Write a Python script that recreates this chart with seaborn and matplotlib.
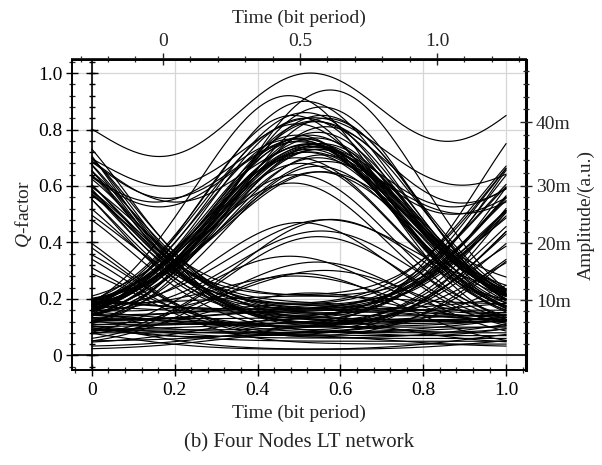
import numpy as np
import pandas as pd
import seaborn as sns
import matplotlib
matplotlib.use("Agg")
import matplotlib.pyplot as plt
from matplotlib.ticker import MultipleLocator, FixedLocator

# ---------------- data ----------------
# each trace = zero level + pulses for previous / current / next bit
bit_centers = [-0.15, 0.525, 1.19]
pulse_sigma = 0.225

base = [
    0.12, 0.15, 0.10, 0.14, 0.17, 0.11, 0.13, 0.16,
    0.09, 0.18, 0.13, 0.07, 0.15, 0.12, 0.05, 0.16,
    0.13, 0.11, 0.16, 0.14, 0.09, 0.17, 0.12, 0.15,
    0.16, 0.15, 0.10, 0.16, 0.13, 0.11, 0.16, 0.14,
    0.30, 0.25, 0.12, 0.08, 0.14, 0.09, 0.11, 0.13,
    0.12, 0.14, 0.10, 0.16, 0.13, 0.11, 0.15, 0.09,
    0.13, 0.10, 0.16, 0.12, 0.08, 0.15, 0.11, 0.14,
    0.11, 0.14, 0.09, 0.16, 0.12, 0.15, 0.10, 0.13,
    0.10, 0.13, 0.16, 0.08, 0.12, 0.15, 0.18, 0.11,
    0.02, 0.03, 0.05, 0.02, 0.04, 0.06, 0.03, 0.02,
    0.08, 0.17, 0.12, 0.14, 0.06, 0.11, 0.16, 0.13,
    0.05, 0.08, 0.04, 0.10, 0.06, 0.03, 0.09, 0.07,
    0.06, 0.09, 0.04, 0.12, 0.07, 0.05, 0.10, 0.08,
    0.10, 0.13, 0.08, 0.15, 0.12, 0.09, 0.14, 0.11,
    0.10, 0.08, 0.12, 0.09, 0.11, 0.07, 0.13, 0.10,
]
amp_prev = [
    0.00, 0.00, 0.00, 0.00, 0.00, 0.00, 0.00, 0.00,
    0.04, 0.00, 0.00, 0.06, 0.00, 0.00, 0.05, 0.00,
    0.00, 0.00, 0.00, 0.00, 0.00, 0.00, 0.00, 0.00,
    0.62, 0.00, 0.00, 0.58, 0.00, 0.00, 0.60, 0.00,
    0.57, 0.50, 0.78, 0.72, 0.66, 0.00, 0.00, 0.00,
    0.60, 0.55, 0.68, 0.50, 0.63, 0.45, 0.58, 0.72,
    0.55, 0.62, 0.48, 0.66, 0.40, 0.58, 0.70, 0.52,
    0.05, 0.00, 0.00, 0.04, 0.00, 0.06, 0.00, 0.00,
    0.05, 0.00, 0.04, 0.06, 0.00, 0.03, 0.00, 0.05,
    0.08, 0.00, 0.06, 0.10, 0.00, 0.05, 0.09, 0.00,
    0.66, 0.42, 0.52, 0.60, 0.35, 0.75, 0.48, 0.57,
    0.00, 0.08, 0.00, 0.10, 0.00, 0.00, 0.06, 0.00,
    0.35, 0.00, 0.28, 0.00, 0.42, 0.00, 0.30, 0.00,
    0.00, 0.60, 0.00, 0.00, 0.00, 0.00, 0.00, 0.00,
    0.00, 0.00, 0.00, 0.00, 0.00, 0.00, 0.00, 0.00,
]
amp_cur = [
    0.62, 0.58, 0.66, 0.60, 0.55, 0.64, 0.57, 0.61,
    0.52, 0.47, 0.70, 0.40, 0.33, 0.74, 0.28, 0.56,
    0.60, 0.57, 0.52, 0.64, 0.55, 0.48, 0.62, 0.58,
    0.60, 0.55, 0.63, 0.60, 0.58, 0.66, 0.58, 0.61,
    0.685, 0.58, 0.00, 0.00, 0.00, 0.00, 0.00, 0.00,
    0.03, -0.02, 0.00, 0.04, 0.02, -0.03, 0.05, 0.00,
    -0.02, 0.03, 0.00, 0.05, 0.00, -0.03, 0.02, 0.04,
    0.00, 0.03, -0.02, 0.00, 0.04, 0.00, 0.02, -0.03,
    0.00, 0.05, 0.00, 0.00, 0.04, 0.00, 0.03, 0.00,
    0.00, 0.07, 0.00, 0.00, 0.09, 0.00, 0.04, 0.06,
    0.02, 0.00, -0.02, 0.03, 0.00, 0.04, -0.03, 0.00,
    0.30, 0.22, 0.38, 0.18, 0.42, 0.26, 0.35, 0.15,
    0.00, 0.02, 0.00, -0.02, 0.00, 0.03, 0.00, 0.00,
    0.72, 0.62, 0.80, 0.60, 0.66, 0.58, 0.76, 0.70,
    0.82, 0.76, 0.70, 0.85, 0.68, 0.78, 0.72, 0.74,
]
amp_next = [
    0.00, 0.00, 0.00, 0.00, 0.00, 0.00, 0.00, 0.00,
    0.00, 0.05, 0.00, 0.00, 0.06, 0.00, 0.00, 0.04,
    0.58, 0.00, 0.50, 0.00, 0.00, 0.00, 0.52, 0.00,
    0.00, 0.00, 0.00, 0.00, 0.00, 0.00, 0.00, 0.00,
    0.68, 0.48, 0.00, 0.00, 0.00, 0.85, 0.78, 0.70,
    0.62, 0.50, 0.65, 0.56, 0.60, 0.48, 0.70, 0.54,
    0.00, 0.04, 0.00, 0.00, 0.06, 0.00, 0.03, 0.00,
    0.60, 0.52, 0.68, 0.45, 0.63, 0.56, 0.72, 0.50,
    0.04, 0.00, 0.06, 0.03, 0.00, 0.05, 0.00, 0.02,
    0.07, 0.09, 0.00, 0.05, 0.00, 0.08, 0.00, 0.10,
    0.55, 0.60, 0.45, 0.68, 0.40, 0.58, 0.52, 0.75,
    0.10, 0.00, 0.05, 0.00, 0.12, 0.00, 0.00, 0.08,
    0.00, 0.38, 0.00, 0.30, 0.00, 0.45, 0.00, 0.25,
    0.60, 0.00, 0.00, 0.00, 0.00, 0.00, 0.00, 0.00,
    0.00, 0.00, 0.00, 0.00, 0.00, 0.00, 0.00, 0.00,
]
skew = [
    0.00, 0.02, -0.02, 0.01, -0.01, 0.03, -0.03, 0.015,
    -0.04, 0.03, 0.01, -0.02, 0.04, -0.01, 0.02, 0.00,
    0.01, -0.02, 0.03, 0.00, -0.03, 0.02, -0.01, 0.025,
    -0.01, 0.02, 0.00, -0.03, 0.03, -0.02, 0.01, 0.015,
    0.00, 0.01, -0.02, 0.01, 0.02, -0.03, 0.00, -0.01,
    0.00, -0.02, 0.02, 0.03, -0.03, 0.01, -0.01, 0.02,
    0.01, -0.03, 0.02, 0.00, -0.02, 0.03, -0.01, 0.02,
    -0.02, 0.01, 0.03, -0.01, 0.00, 0.02, -0.03, 0.015,
    0.03, -0.02, 0.01, -0.04, 0.02, 0.00, -0.01, 0.04,
    -0.03, 0.04, 0.00, 0.02, -0.02, 0.03, -0.04, 0.01,
    0.02, -0.01, 0.03, -0.03, 0.00, 0.01, -0.02, 0.03,
    -0.05, 0.04, 0.02, -0.03, 0.05, -0.02, 0.03, 0.00,
    0.02, -0.03, 0.04, 0.00, -0.01, 0.03, -0.04, 0.01,
    0.01, -0.02, 0.03, 0.00, -0.03, 0.02, -0.01, 0.04,
    -0.05, 0.04, -0.03, 0.05, 0.02, -0.04, 0.03, -0.01,
]

x_ticks = [0, 0.2, 0.4, 0.6, 0.8, 1.0]
x_tick_labels = ["0", "0.2", "0.4", "0.6", "0.8", "1.0"]
y_ticks = [0, 0.2, 0.4, 0.6, 0.8, 1.0]
y_tick_labels = ["0", "0.2", "0.4", "0.6", "0.8", "1.0"]
top_ticks = [0, 0.5, 1.0]
top_tick_labels = ["0", "0.5", "1.0"]
amp_tick_pos = [0.196, 0.398, 0.600, 0.826]
amp_tick_labels = ["10m", "20m", "30m", "40m"]

# ---------------- build long table ----------------
t = np.linspace(0.0, 1.0, 241)
rows = []
for i in range(len(base)):
    tt = t - skew[i]
    y = np.full_like(t, base[i])
    for c, a in zip(bit_centers, (amp_prev[i], amp_cur[i], amp_next[i])):
        y = y + a * np.exp(-((tt - c) ** 2) / (2 * pulse_sigma ** 2))
    rows.append(pd.DataFrame({"t": t, "q": y, "trace": i}))
df = pd.concat(rows, ignore_index=True)

# ---------------- style ----------------
sns.set_style("ticks")
plt.rcParams["font.family"] = ["Liberation Serif", "DejaVu Serif"]
plt.rcParams["mathtext.fontset"] = "custom"
plt.rcParams["mathtext.it"] = "Liberation Serif:italic"
plt.rcParams["mathtext.rm"] = "Liberation Serif"
FS = 14

fig = plt.figure(figsize=(6.02, 4.65), dpi=100)
L, R, T, B = 72, 526, 59.5, 369.5
ax = fig.add_axes([L / 602, 1 - B / 465, (R - L) / 602, (B - T) / 465])

ax.set_xlim(-0.048, 1.048)
ax.set_ylim(-0.050, 1.048)
ax.set_xticks(x_ticks, labels=x_tick_labels)
ax.set_yticks(y_ticks, labels=y_tick_labels)
ax.xaxis.set_minor_locator(MultipleLocator(0.04))
ax.yaxis.set_minor_locator(MultipleLocator(0.04))
ax.grid(True, which="major", color="#d6d6d6", lw=0.9)
ax.set_axisbelow(True)

sns.lineplot(data=df, x="t", y="q", units="trace", estimator=None,
             color="black", lw=0.85, ax=ax, legend=False)

ax.axvline(0, color="black", lw=1.2, zorder=3)
ax.axhline(0, color="black", lw=1.2, zorder=3)
# tick marks along the inner x = 0 axis line
ymin_ticks = np.arange(-0.04, 1.05, 0.04)
ax.plot(np.zeros_like(ymin_ticks), ymin_ticks, ls="none", marker="_",
        ms=5, mew=1.0, color="black", zorder=4, clip_on=False)
ax.plot(np.zeros(len(y_ticks)), y_ticks, ls="none", marker="_",
        ms=8, mew=1.0, color="black", zorder=4, clip_on=False)

for s in ax.spines.values():
    s.set_linewidth(1.4)
    s.set_color("black")
ax.spines["right"].set_linewidth(2.2)

ax.tick_params(which="major", direction="inout", length=8, width=1.0,
               labelsize=FS, colors="black", top=False, right=False)
ax.tick_params(which="minor", direction="inout", length=4, width=0.9,
               top=False, right=False)
ax.tick_params(axis="y", pad=3)
ax.tick_params(axis="x", pad=5)

ax.set_xlabel("Time (bit period)", fontsize=FS, labelpad=4)
ax.set_ylabel("$Q$-factor", fontsize=FS, labelpad=3)

# top axis (different time scale)
sec = ax.secondary_xaxis("top", functions=(lambda v: 1.511 * v - 0.259,
                                           lambda u: (u + 0.259) / 1.511))
sec.set_xticks(top_ticks, labels=top_tick_labels)
sec.xaxis.set_minor_locator(MultipleLocator(0.1))
sec.tick_params(which="major", direction="inout", length=8, width=1.0,
                labelsize=FS, pad=3)
sec.tick_params(which="minor", direction="inout", length=4, width=0.9)
sec.spines["top"].set_linewidth(1.4)
sec.set_xlabel("Time (bit period)", fontsize=FS, labelpad=7)

# right amplitude axis
ax2 = ax.twinx()
ax2.set_ylim(ax.get_ylim())
ax2.set_yticks(amp_tick_pos, labels=amp_tick_labels)
minor_r = []
for a0, a1 in zip([0.0] + amp_tick_pos[:-1], amp_tick_pos):
    minor_r += list(np.linspace(a0, a1, 6)[1:-1])
minor_r += list(np.linspace(0.826, 1.052, 6)[1:-1])
ax2.yaxis.set_minor_locator(FixedLocator(minor_r))
ax2.tick_params(which="major", direction="inout", length=8, width=1.0,
                labelsize=FS, pad=3)
ax2.tick_params(which="minor", direction="inout", length=4, width=0.9)
for s in ax2.spines.values():
    s.set_visible(False)
ax2.set_ylabel("Amplitude/(a.u.)", fontsize=FS, labelpad=5)

fig.text((L + R) / 2 / 602, 1 - 443 / 465, "(b) Four Nodes LT network",
         ha="center", va="center", fontsize=15)

fig.savefig("out.png", dpi=100)
